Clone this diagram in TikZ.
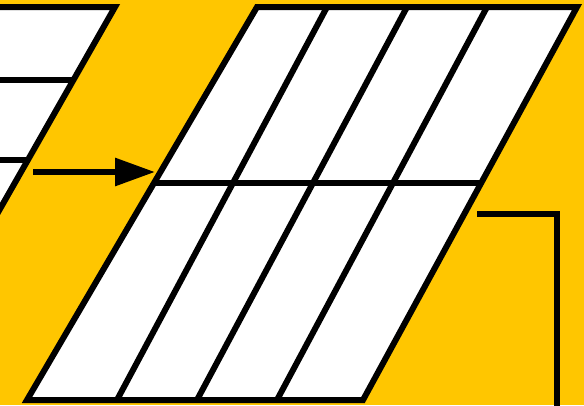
\documentclass[tikz,border=0pt]{standalone}
\usetikzlibrary{arrows.meta}
\definecolor{bgyellow}{RGB}{255,198,0}
\tikzset{
  edge/.style={draw=black, line width=6pt, line join=miter},
  panel/.style={fill=white, draw=black, line width=6pt, line join=miter},
  flow/.style={draw=black, line width=6pt, -{Triangle[length=40pt,width=27pt]}},
  wire/.style={draw=black, line width=6pt, line join=miter}
}
\begin{document}
\begin{tikzpicture}[x=1pt,y=-1pt]
\useasboundingbox (0,0) rectangle (584,405);
\clip (0,0) rectangle (584,405);
\fill[bgyellow] (0,0) rectangle (584,405);
% left partial panel
\path[fill=white] (-20,7) -- (115,7) -- (-12,230) -- (-20,230) -- cycle;
\draw[edge] (-20,7) -- (115,7) -- (-12,230);
\draw[edge] (-20,80) -- (73.4,80);
\draw[edge] (-20,160) -- (27.8,160);
% right panel
\draw[panel] (257,7) -- (577,7) -- (363,400) -- (27,400) -- cycle;
\draw[edge] (327,7) -- (117,400);
\draw[edge] (407,7) -- (197,400);
\draw[edge] (487,7) -- (277,400);
\draw[edge] (154,183) -- (481.2,183);
% arrow
\coordinate (a1) at (33,172);
\coordinate (a2) at (155,172);
\draw[flow] (a1) -- (a2);
% connector
\coordinate (c1) at (477,214);
\coordinate (c2) at (557,214);
\coordinate (c3) at (557,410);
\draw[wire] (c1) -- (c2) -- (c3);
\end{tikzpicture}
\end{document}
